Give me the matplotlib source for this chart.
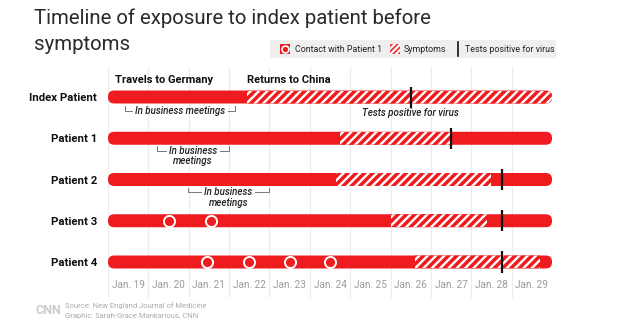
import numpy as np
import matplotlib
matplotlib.use("Agg")
import matplotlib.pyplot as plt
from matplotlib.patches import FancyBboxPatch, Rectangle

plt.rcParams["font.family"] = ["Roboto", "DejaVu Sans"]
plt.rcParams["hatch.linewidth"] = 1.7

# ---------------- data ----------------
patients = ["Index Patient", "Patient 1", "Patient 2", "Patient 3", "Patient 4"]
day_labels = ["Jan. 19", "Jan. 20", "Jan. 21", "Jan. 22", "Jan. 23", "Jan. 24",
              "Jan. 25", "Jan. 26", "Jan. 27", "Jan. 28", "Jan. 29"]
symptom_start = [3.45, 5.75, 5.65, 7.0, 7.6]      # days since start of Jan. 19
symptom_end = [11.0, 8.5, 9.5, 9.4, 10.7]
test_positive = [7.5, 8.5, 9.75, 9.75, 9.75]
contact_patient = [3, 3, 4, 4, 4, 4]
contact_day = [1.5, 2.55, 2.45, 3.5, 4.5, 5.5]
meeting_patient = [0, 1, 2]
meeting_start = [0.42, 1.22, 1.98]
meeting_end = [3.15, 3.0, 3.98]
meeting_text = ["In business meetings", "In business\nmeetings", "In business\nmeetings"]

RED = "#ee1c1e"
W, H = 620, 336
fig = plt.figure(figsize=(W / 100, H / 100), dpi=100)
fig.patch.set_facecolor("white")

def fx(x):
    return x / W

def fy(y):
    return 1 - y / H

# axes: x 108..552 px, y 67..298 px
ax_l, ax_r, ax_t, ax_b = 108, 552, 67, 298
ax = fig.add_axes([fx(ax_l), fy(ax_b), (ax_r - ax_l) / W, (ax_b - ax_t) / H])
ndays = len(day_labels)
px_per_day = (ax_r - ax_l) / ndays
row0_px, row_step = 97, 41.25
ylo = (ax_t - row0_px) / row_step
yhi = (ax_b - row0_px) / row_step
ax.set_xlim(0, ndays)
ax.set_ylim(yhi, ylo)
for s in ax.spines.values():
    s.set_visible(False)
ax.set_facecolor("none")

# grid lines at day boundaries
ax.set_xticks(np.arange(ndays + 1), minor=True)
ax.grid(True, which="minor", axis="x", color="#ececec", linewidth=0.8, zorder=0)
ax.tick_params(which="minor", length=0)
ax.set_xticks(np.arange(ndays) + 0.5, day_labels)
ax.tick_params(axis="x", which="major", length=0, pad=-13, labelsize=7.2,
               labelcolor="#9a9a9a")
ax.set_yticks(range(len(patients)), patients)
ax.tick_params(axis="y", length=0, pad=8)
for lab in ax.get_yticklabels():
    lab.set_fontweight("bold")
    lab.set_fontsize(8.2)
    lab.set_color("#111111")

bar_h = 13 / row_step
rx = 6.2 / px_per_day
ry = 6.2 / row_step
for i in range(len(patients)):
    pill = FancyBboxPatch((0, i - bar_h / 2), ndays, bar_h,
                          boxstyle=f"round,pad=0,rounding_size={rx}",
                          mutation_aspect=ry / rx, fc=RED, ec="none", zorder=2)
    ax.add_patch(pill)
    hat = Rectangle((symptom_start[i], i - bar_h / 2),
                    symptom_end[i] - symptom_start[i], bar_h,
                    fc=RED, ec="white", lw=0, hatch="////", zorder=3)
    ax.add_patch(hat)
    hat.set_clip_path(pill)
    ext = 10.5 / row_step
    ax.plot([test_positive[i]] * 2, [i - ext, i + ext], color="#111111",
            lw=1.6, zorder=5, solid_capstyle="butt")

ax.plot(contact_day, contact_patient, "o", ms=8, mfc=RED, mec="white",
        mew=1.4, zorder=6, ls="none")

# meeting brackets
renderer = fig.canvas.get_renderer()
ann_font = dict(fontsize=7, style="italic", fontweight="medium", color="#222222")
bracket_offset = [14, 12.5, 13]
for p, s, e, t, off in zip(meeting_patient, meeting_start, meeting_end,
                           meeting_text, bracket_offset):
    lines = t.split("\n")
    yb = p + off / row_step
    drop = 5 / row_step
    mid = (s + e) / 2
    first = ax.text(mid, yb, lines[0], ha="center", va="center", zorder=4, **ann_font)
    for k, extra in enumerate(lines[1:]):
        ax.text(mid, yb + (k + 1) * 10 / row_step, extra, ha="center",
                va="center", zorder=4, **ann_font)
    wpx = first.get_window_extent(renderer).width
    half_txt = (wpx / 2 + 3) / px_per_day
    ax.plot([s, s, mid - half_txt], [yb - drop, yb, yb], color="#777777", lw=0.7, zorder=4)
    ax.plot([mid + half_txt, e, e], [yb, yb, yb - drop], color="#777777", lw=0.7, zorder=4)

ax.text(test_positive[0], 0 + 16 / row_step, "Tests positive for virus", ha="center",
        va="center", **ann_font)

# top labels
ax.text(0.18, -17 / row_step, "Travels to Germany", ha="left", va="center",
        fontsize=8, fontweight="bold", color="#111111")
ax.text(symptom_start[0], -17 / row_step, "Returns to China", ha="left", va="center",
        fontsize=8, fontweight="bold", color="#111111")

# title
fig.text(fx(34), fy(18), "Timeline of exposure to index patient before",
         fontsize=14.7, color="#2a2a2a", va="center", ha="left")
fig.text(fx(34), fy(44), "symptoms", fontsize=14.7, color="#2a2a2a",
         va="center", ha="left")

# legend box
fig.patches.append(Rectangle((fx(270), fy(58)), (556 - 270) / W, 18 / H,
                             transform=fig.transFigure, fc="#efefef", ec="none"))
fig.patches.append(Rectangle((fx(280), fy(54)), 10 / W, 10 / H,
                             transform=fig.transFigure, fc=RED, ec="none"))
fig.patches.append(Rectangle((fx(390), fy(54)), 10 / W, 10 / H,
                             transform=fig.transFigure, fc=RED, ec="white", lw=0,
                             hatch="//////"))
fig.add_artist(plt.Line2D([fx(285)], [fy(49)], marker="o", ms=5, mfc=RED,
                          mec="white", mew=1.2, transform=fig.transFigure))
fig.add_artist(plt.Line2D([fx(458), fx(458)], [fy(42), fy(56)], color="#111111",
                          lw=1.2, transform=fig.transFigure))
leg_font = dict(fontsize=6.4, color="#222222", va="center", ha="left")
fig.text(fx(295), fy(49), "Contact with Patient 1", **leg_font)
fig.text(fx(404), fy(49), "Symptoms", **leg_font)
fig.text(fx(465), fy(49), "Tests positive for virus", **leg_font)

# footer
fig.text(fx(35), fy(311), "CNN", fontsize=9, fontweight="bold", color="#cccccc",
         va="center", ha="left")
fig.text(fx(65), fy(306), "Source: New England Journal of Medicine", fontsize=5.5,
         color="#aaaaaa", va="center", ha="left")
fig.text(fx(65), fy(316), "Graphic: Sarah-Grace Mankarious, CNN", fontsize=5.5,
         color="#aaaaaa", va="center", ha="left")

fig.savefig("out.png", dpi=100, facecolor="white")
